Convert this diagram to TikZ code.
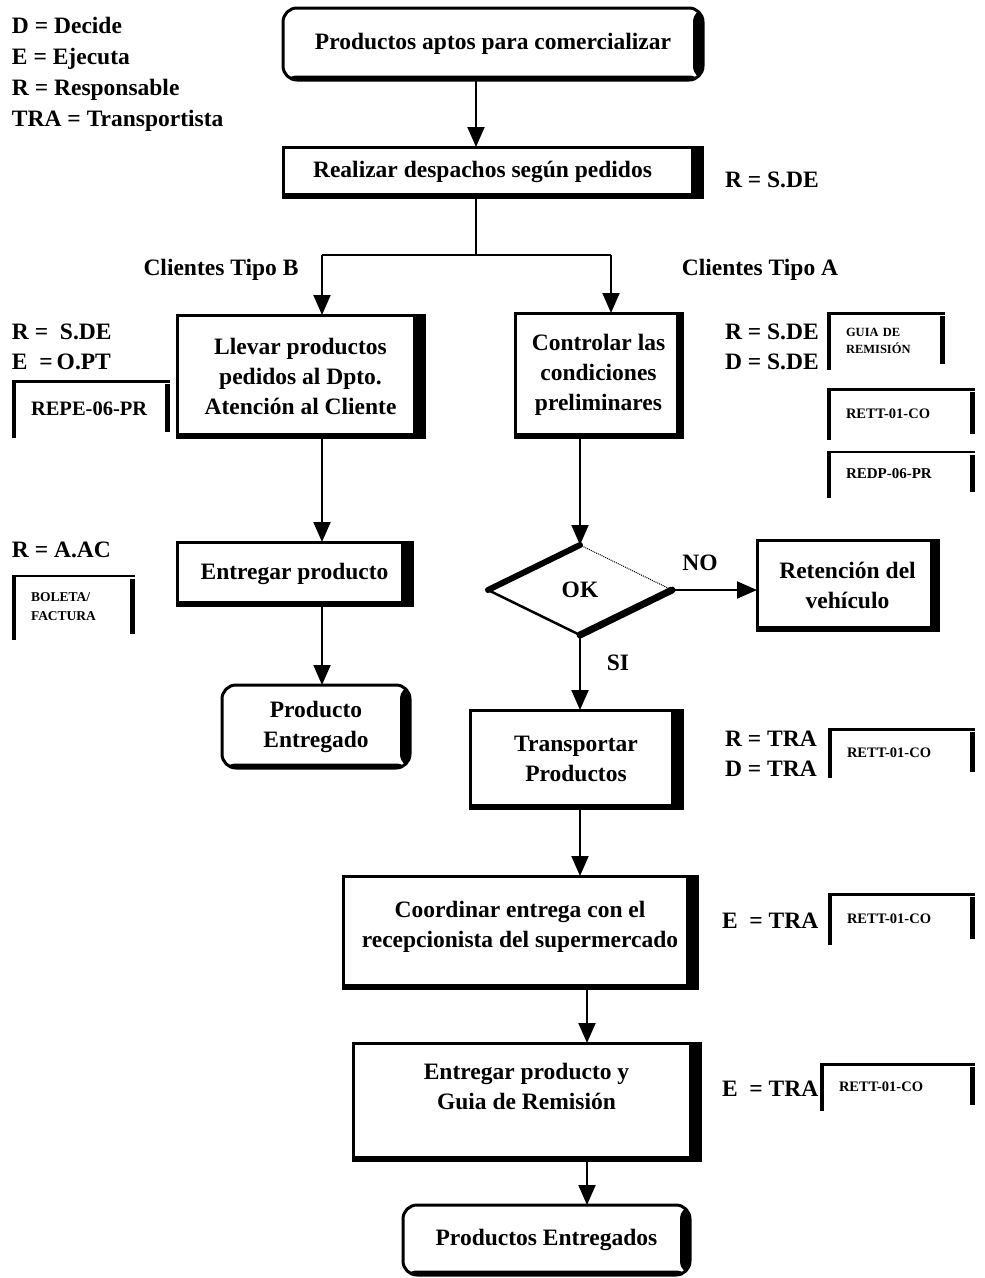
\documentclass[tikz,border=0pt]{standalone}
\usepackage{fontspec}
\setmainfont{Liberation Serif}
\usetikzlibrary{shapes.geometric,arrows.meta}
\begin{document}
\begin{tikzpicture}[x=1pt,y=-1pt,
  every node/.style={font=\bfseries\fontsize{23.5}{30}\selectfont, outer sep=0pt, inner sep=0pt},
  shadowed/.style={path picture={
    \fill ([xshift=-#1]path picture bounding box.north east) rectangle (path picture bounding box.south east);
    \fill ([yshift=4.5pt]path picture bounding box.south west) rectangle (path picture bounding box.south east);}},
  shadowed/.default=11pt,
  proc/.style={draw, line width=3pt, align=center, shadowed},
  term/.style={draw, line width=3pt, align=center, rounded corners=14pt, shadowed=10pt},
  doc/.style={anchor=west, text width=#1, align=left, inner xsep=19pt, inner ysep=0pt,
    path picture={
      \fill (path picture bounding box.south west) rectangle ([xshift=3.5pt]path picture bounding box.north west);
      \fill ([yshift=-2.5pt]path picture bounding box.north west) rectangle (path picture bounding box.north east);
      \fill ([xshift=-5pt,yshift=-4pt]path picture bounding box.north east) rectangle ([yshift=6pt]path picture bounding box.south east);}},
  lab/.style={anchor=west, text height=17pt, text depth=5pt},
  conn/.style={line width=2pt},
  arr/.style={conn, -{Triangle[length=20pt,width=17pt]}}
]
\useasboundingbox (0,0) rectangle (985,1278);

% legend
\node[lab] (lgd) at (12,27) {D = Decide};
\node[lab] (lge) at (12,58) {E = Ejecuta};
\node[lab] (lgr) at (12,89) {R = Responsable};
\node[lab] (lgt) at (12,120) {TRA = Transportista};

% main flow
\node[term, minimum width=420pt, minimum height=72pt] (top) at (493,44) {Productos aptos para comercializar};
\node[proc, minimum width=419pt, minimum height=50pt] (desp) at (492.5,172) {Realizar despachos según pedidos\hspace*{20pt}};
\node[lab] (rdesp) at (725,181) {R = S.DE};

\coordinate (j) at (476,255);
\coordinate (jl) at (322,255);
\coordinate (jr) at (611,255);

\node (tipob) at (221,270) {Clientes Tipo B};
\node (tipoa) at (760,270) {Clientes Tipo A};

\node[proc, minimum width=247pt, minimum height=122pt] (llevar) at (300.5,376) {Llevar productos\\pedidos al Dpto.\\Atención al Cliente};
\node[proc, minimum width=167pt, minimum height=124pt, shadowed=6pt] (control) at (598.5,375) {Controlar las\\condiciones\\preliminares};

% client B annotations
\node[lab] (rb) at (12,333) {R =~~S.DE};
\node[lab] (eb) at (12,363) {E~~=\,O.PT};
\node[doc=120pt, minimum height=58pt, font=\bfseries\fontsize{20.5}{22}\selectfont] (repe) at (12,409) {REPE-06-PR};

% client A annotations
\node[lab] (ra) at (725,333) {R = S.DE};
\node[lab] (da) at (725,363) {D = S.DE};
\node[doc=80pt, minimum height=58pt, font=\bfseries\fontsize{12.5}{17}\selectfont] (guia) at (827,341) {GUIA DE\\REMISIÓN};
\node[doc=110pt, minimum height=52pt, font=\bfseries\fontsize{14.5}{18}\selectfont] (rett1) at (827,414) {RETT-01-CO};
\node[doc=110pt, minimum height=47pt, font=\bfseries\fontsize{15}{18}\selectfont] (redp) at (827,474) {REDP-06-PR};

% branch B
\node[proc, minimum width=235pt, minimum height=63pt] (entregar) at (294.5,573.5) {Entregar producto};
\node[lab] (rac) at (12,551) {R = A.AC};
\node[doc=85pt, minimum height=65pt, font=\bfseries\fontsize{13.5}{19}\selectfont] (boleta) at (12,607) {BOLETA/\\FACTURA};
\node[term, minimum width=188pt, minimum height=83pt] (prodent) at (316,726.5) {Producto\\Entregado};

% branch A
\node[diamond, aspect=2, minimum width=184pt, minimum height=90pt] (ok) at (580,590) {OK};
\draw[line width=6pt, line cap=round] (ok.west) -- (ok.north);
\draw[line width=1pt, densely dotted] (ok.north) -- (ok.east);
\draw[line width=7pt, line cap=round] (ok.east) -- (ok.south);
\draw[line width=2.5pt] (ok.south) -- (ok.west);
\node (no) at (700,563) {NO};
\node (si) at (618,663) {SI};
\node[proc, minimum width=181pt, minimum height=90pt, shadowed=8pt] (reten) at (847.5,585) {Retención del\\vehículo};

\node[proc, minimum width=212pt, minimum height=98pt] (transp) at (576,759) {Transportar\\Productos};
\node[lab] (rt) at (725,740) {R = TRA};
\node[lab] (dt) at (725,770) {D = TRA};
\node[doc=109pt, minimum height=50pt, font=\bfseries\fontsize{14.5}{18}\selectfont] (rett2) at (828,753) {RETT-01-CO};

\coordinate (spine) at (587,1000);
\node[proc, minimum width=354pt, minimum height=112pt] (coord) at (520,932) {Coordinar entrega con el\\recepcionista del supermercado\\[-15pt]\mbox{}};
\node[lab] (et1) at (722,922) {E~~= TRA};
\node[doc=109pt, minimum height=52pt, font=\bfseries\fontsize{14.5}{18}\selectfont] (rett3) at (828,919) {RETT-01-CO};

\node[proc, minimum width=347pt, minimum height=117pt] (entr2) at (526.5,1101.5) {Entregar producto y\\Guia de Remisión\\\mbox{}};
\node[lab] (et2) at (722,1090) {E~~= TRA};
\node[doc=117pt, minimum height=48pt, font=\bfseries\fontsize{14.5}{18}\selectfont] (rett4) at (820,1087) {RETT-01-CO};

\node[term, minimum width=287pt, minimum height=70pt] (fin) at (546.5,1240) {Productos Entregados};

% connectors
\draw[arr] (top.south -| j) -- (desp.north -| j);
\draw[conn] (desp.south -| j) -- (j);
\draw[conn] (jl) -- (jr);
\draw[arr] (jl) -- (llevar.north -| jl);
\draw[arr] (jr) -- (control.north -| jr);
\draw[arr] (llevar.south -| jl) -- (entregar.north -| jl);
\draw[arr] (entregar.south -| jl) -- (prodent.north -| jl);
\draw[arr] (control.south -| ok.north) -- (ok.north);
\draw[arr] (ok.east) -- (ok.east -| reten.west);
\draw[arr] (ok.south) -- (transp.north -| ok.south);
\draw[arr] (transp.south -| ok.south) -- (coord.north -| ok.south);
\draw[arr] (coord.south -| spine) -- (entr2.north -| spine);
\draw[arr] (entr2.south -| spine) -- (fin.north -| spine);
\end{tikzpicture}
\end{document}
